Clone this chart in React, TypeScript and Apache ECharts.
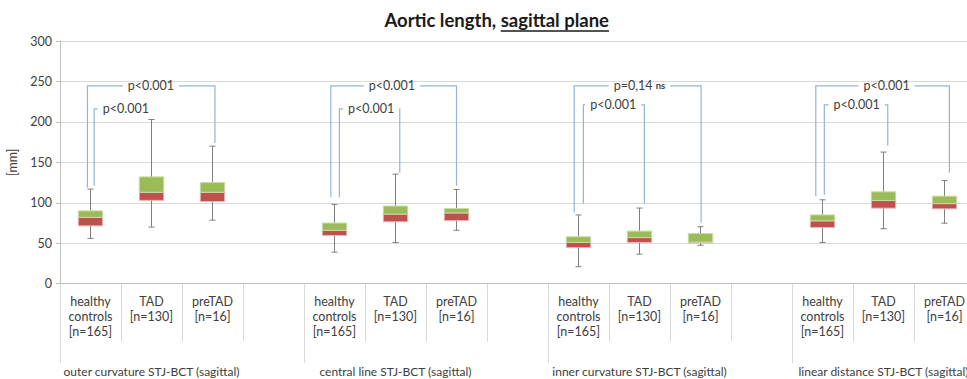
import React, { useEffect, useRef } from "react";
import * as echarts from "echarts";

// ---- data ----
const groupNames = [
  "outer curvature STJ-BCT (sagittal)",
  "central line STJ-BCT (sagittal)",
  "inner curvature STJ-BCT (sagittal)",
  "linear distance STJ-BCT (sagittal)",
];
const subgroups = ["healthy\ncontrols\n[n=165]", "TAD\n[n=130]", "preTAD\n[n=16]", ""];
const yTicks = { min: 0, max: 300, step: 50 };

// [min, q1, median, q3, max] for healthy, TAD, preTAD
const outerCurvature = [
  [56, 71.5, 82, 90, 117],
  [70, 103, 113, 132, 203],
  [78.5, 101.5, 113, 125, 170],
];
const centralLine = [
  [39, 59.5, 66, 75, 98],
  [51, 76.5, 86, 96, 135.5],
  [66, 78, 87.5, 93, 116.5],
];
const innerCurvature = [
  [21, 44.5, 51, 58, 85],
  [36.5, 51, 57, 65, 93.5],
  [47.5, 50.5, 51.5, 62, 70.5],
];
const linearDistance = [
  [51, 69.4, 77.7, 85, 103.7],
  [68, 93.4, 102.8, 113.6, 162.7],
  [74.8, 92.5, 99, 108.2, 127.6],
];

// significance brackets (x in category units, y in mm)
const bracketLabels = ["p<0.001", "p<0.001", "p<0.001", "p<0.001", "p=0,14 {ns|ns}", "p<0.001", "p<0.001", "p<0.001"];
const bracketLabelX = [0.99, 0.58, 4.94, 4.6, 9.0, 8.57, 13.05, 12.56];
const bracketLeftX = [-0.05, 0.06, 3.94, 4.08, 7.93, 8.08, 11.89, 12.03];
const bracketRightX = [2.04, null, 6.0, 5.07, 10.01, 9.08, 14.08, 13.07];
const bracketTop = [244.5, 216, 244.5, 216, 244.5, 221, 244.5, 221];
const bracketLeftEnd = [119, 121, 107, 107, 88, 99, 108, 110];
const bracketRightEnd = [174, null, 121, 137, 75.5, 99, 137, 170.5];

const FONT = "Lato";
const TXT = "#404040";

function measure(text: string, font: string) {
  const ctx = document.createElement("canvas").getContext("2d")!;
  ctx.font = font;
  return ctx.measureText(text).width;
}

export default function App() {
  const ref = useRef<HTMLDivElement>(null);
  useEffect(() => {
    const chart = echarts.init(ref.current!, null, { renderer: "svg" });
    const groups = [outerCurvature, centralLine, innerCurvature, linearDistance];
    const categories: string[] = [];
    const groupSlots: string[] = [];
    groups.forEach((_, g) => {
      subgroups.forEach((s, j) => {
        categories.push(s);
        groupSlots.push(j === 1 ? groupNames[g] : "");
      });
    });
    const boxRows: number[][] = [];
    groups.forEach((grp, g) => grp.forEach((r, j) => boxRows.push([g * 4 + j, ...r])));

    const titleFont = `bold 18.5px ${FONT}`;
    const t1 = "Aortic length, ";
    const t2 = "sagittal plane";
    const w1 = measure(t1, titleFont);
    const w2 = measure(t2, titleFont);
    const tLeft = 496.7 - (w1 + w2) / 2;

    const labelFont = `12.5px ${FONT}`;

    chart.setOption({
      animation: false,
      backgroundColor: "#ffffff",
      textStyle: { fontFamily: FONT },
      graphic: [
        { type: "text", x: tLeft, y: 19.5, style: { text: t1, font: titleFont, fill: "#1a1a1a", verticalAlign: "middle" } },
        { type: "text", x: tLeft + w1, y: 19.5, style: { text: t2, font: titleFont, fill: "#1a1a1a", verticalAlign: "middle" } },
        { type: "line", shape: { x1: tLeft + w1, y1: 31, x2: tLeft + w1 + w2, y2: 31 }, style: { stroke: "#1a1a1a", lineWidth: 1.3 } },
      ],
      grid: { left: 60, top: 41, width: 976, height: 242.7, containLabel: false, outerBoundsMode: "none" },
      xAxis: [
        {
          type: "category",
          data: categories,
          position: "bottom",
          axisLine: { show: true, onZero: false, lineStyle: { color: "#bfbfbf" } },
          axisTick: { show: true, interval: 0, length: 58, lineStyle: { color: "#d9d9d9" } },
          axisLabel: { interval: 0, margin: 10, lineHeight: 15, fontSize: 12.5, fontFamily: FONT, color: TXT },
          splitLine: { show: false },
        },
        {
          type: "category",
          data: groupSlots,
          position: "bottom",
          axisLine: { show: false, onZero: false },
          axisTick: { show: true, interval: (i: number) => i % 4 === 0, length: 79.5, lineStyle: { color: "#d9d9d9" } },
          axisLabel: { interval: 0, margin: 80, lineHeight: 15, fontSize: 12, fontFamily: FONT, color: TXT },
          splitLine: { show: false },
        },
        { type: "value", min: -0.5, max: 15.5, show: false, axisLine: { onZero: false } },
      ],
      yAxis: {
        type: "value",
        min: yTicks.min,
        max: yTicks.max,
        interval: yTicks.step,
        name: "[mm]",
        nameLocation: "middle",
        nameGap: 28,
        nameTextStyle: { fontSize: 12.5, fontFamily: FONT, color: TXT },
        axisLine: { show: true, onZero: false, lineStyle: { color: "#bfbfbf" } },
        axisTick: { show: true, length: 4, lineStyle: { color: "#bfbfbf" } },
        axisLabel: { margin: 8, fontSize: 12.5, fontFamily: FONT, color: TXT },
        splitLine: { lineStyle: { color: "#d9d9d9" } },
      },
      series: [
        {
          type: "custom",
          xAxisIndex: 0,
          yAxisIndex: 0,
          data: boxRows,
          encode: { x: 0, y: [1, 2, 3, 4, 5] },
          renderItem: (params: any, api: any) => {
            const x = api.value(0);
            const pMin = api.coord([x, api.value(1)]);
            const pQ1 = api.coord([x, api.value(2)]);
            const pMed = api.coord([x, api.value(3)]);
            const pQ3 = api.coord([x, api.value(4)]);
            const pMax = api.coord([x, api.value(5)]);
            const band = api.size([1, 0])[0];
            const bw = band * 0.4;
            const cx = pMin[0];
            const cap = 3;
            const ws = { stroke: "#7f7f7f", lineWidth: 1 };
            return {
              type: "group",
              children: [
                { type: "line", shape: { x1: cx, y1: pMax[1], x2: cx, y2: pMin[1] }, style: ws },
                { type: "line", shape: { x1: cx - cap, y1: pMax[1], x2: cx + cap, y2: pMax[1] }, style: ws },
                { type: "line", shape: { x1: cx - cap, y1: pMin[1], x2: cx + cap, y2: pMin[1] }, style: ws },
                {
                  type: "rect",
                  shape: { x: cx - bw / 2, y: pMed[1], width: bw, height: pQ1[1] - pMed[1] },
                  style: { fill: "#C0504D", stroke: "#E6B9B8", lineWidth: 1 },
                },
                {
                  type: "rect",
                  shape: { x: cx - bw / 2, y: pQ3[1], width: bw, height: pMed[1] - pQ3[1] },
                  style: { fill: "#9BBB59", stroke: "#C9DAA5", lineWidth: 1 },
                },
              ],
            };
          },
        },
        {
          type: "custom",
          xAxisIndex: 2,
          yAxisIndex: 0,
          data: bracketLeftX.map((x, i) => [x, bracketTop[i]]),
          encode: { x: 0, y: 1 },
          renderItem: (params: any, api: any) => {
            const i = params.dataIndex;
            const top = bracketTop[i];
            const pL = api.coord([bracketLeftX[i], top]);
            const pLb = api.coord([bracketLeftX[i], bracketLeftEnd[i]]);
            const pLab = api.coord([bracketLabelX[i], top]);
            const label = bracketLabels[i];
            const plain = label.replace("{ns|ns}", "");
            const tw = measure(plain, labelFont) + (label !== plain ? measure("ns", `bold 9.5px ${FONT}`) : 0);
            const half = tw / 2 + 5;
            const ls = { stroke: "#95B3D7", lineWidth: 1.2, fill: "none" };
            const children: any[] = [
              { type: "polyline", shape: { points: [pLb, pL, [pLab[0] - half, pL[1]]] }, style: ls },
            ];
            if (bracketRightX[i] !== null) {
              const pR = api.coord([bracketRightX[i], top]);
              const pRb = api.coord([bracketRightX[i], bracketRightEnd[i]]);
              children.push({ type: "polyline", shape: { points: [[pLab[0] + half, pR[1]], pR, pRb] }, style: ls });
            }
            children.push({
              type: "text",
              x: pLab[0],
              y: pLab[1],
              style: {
                text: label,
                font: labelFont,
                fill: TXT,
                align: "center",
                verticalAlign: "middle",
                rich: { ns: { fontSize: 9.5, fontWeight: "bold", fontFamily: FONT, fill: TXT } },
              },
            });
            return { type: "group", children };
          },
        },
      ],
    });
    return () => chart.dispose();
  }, []);
  return <div ref={ref} style={{ position: "absolute", left: 0, top: 0, width: 967, height: 379 }} />;
}
